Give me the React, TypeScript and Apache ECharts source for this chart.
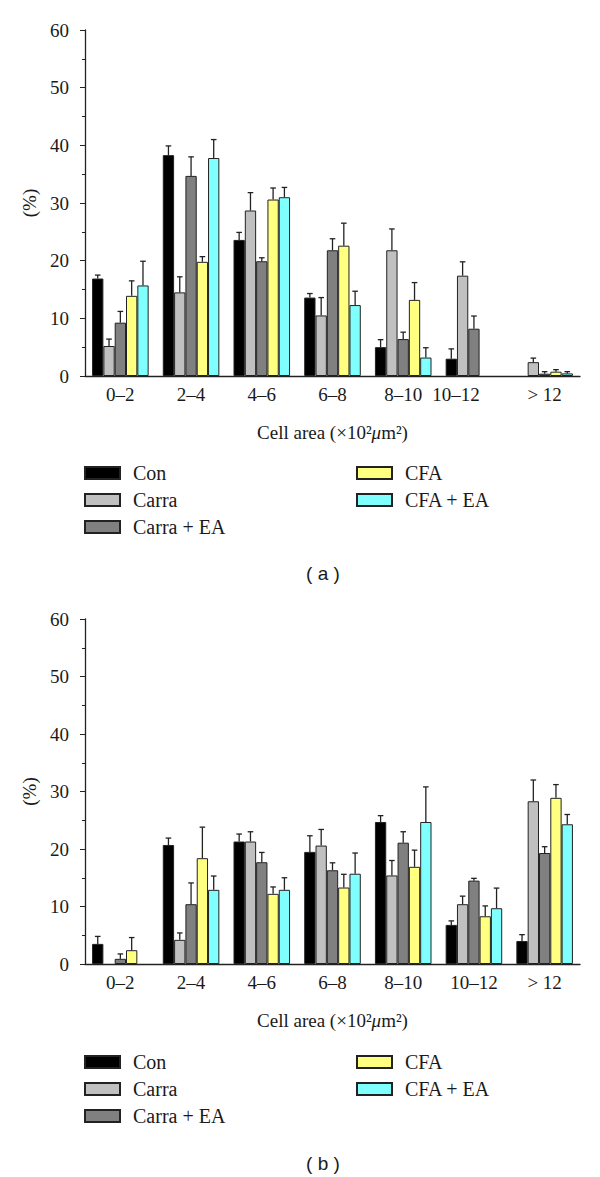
import React, { useEffect, useRef } from "react";
import * as echarts from "echarts";

const categories = ["0–2", "2–4", "4–6", "6–8", "8–10", "10–12", "> 12"];
const seriesNames = ["Con", "Carra", "Carra + EA", "CFA", "CFA + EA"];
const colors = ["#000000", "#c0c0c0", "#808080", "#ffff80", "#80ffff"];
const yTicks = [0, 10, 20, 30, 40, 50, 60];

// Panel (a): means and top of error bars
const aCon = [16.9, 38.3, 23.6, 13.6, 5.0, 3.0, null];
const aCarra = [5.2, 14.5, 28.7, 10.5, 21.8, 17.4, 2.4];
const aCarraEA = [9.25, 34.7, 19.9, 21.8, 6.4, 8.2, 0.4];
const aCFA = [13.9, 19.8, 30.6, 22.6, 13.2, null, 0.75];
const aCFAEA = [15.7, 37.8, 31.0, 12.3, 3.2, null, 0.45];
const aConErr = [17.5, 39.9, 24.9, 14.3, 6.3, 4.7, null];
const aCarraErr = [6.4, 17.2, 31.8, 13.6, 25.5, 19.8, 3.1];
const aCarraEAErr = [11.2, 38.0, 20.5, 23.8, 7.6, 10.4, 0.75];
const aCFAErr = [16.5, 20.7, 32.6, 26.5, 16.2, null, 1.1];
const aCFAEAErr = [19.9, 41.0, 32.7, 14.7, 4.9, null, 0.75];

// Panel (b)
const bCon = [3.5, 20.7, 21.3, 19.5, 24.7, 6.8, 4.0];
const bCarra = [null, 4.2, 21.3, 20.6, 15.4, 10.4, 28.3];
const bCarraEA = [0.9, 10.4, 17.7, 16.3, 21.1, 14.5, 19.3];
const bCFA = [2.4, 18.4, 12.2, 13.3, 16.9, 8.3, 28.9];
const bCFAEA = [null, 12.9, 12.9, 15.7, 24.7, 9.7, 24.3];
const bConErr = [4.8, 21.9, 22.6, 22.3, 25.8, 7.5, 5.1];
const bCarraErr = [null, 5.4, 23.0, 23.4, 18.0, 11.8, 32.0];
const bCarraEAErr = [1.75, 14.1, 19.4, 17.6, 23.0, 14.9, 20.4];
const bCFAErr = [4.6, 23.8, 13.4, 15.6, 19.8, 10.1, 31.2];
const bCFAEAErr = [null, 15.3, 15.0, 19.3, 30.8, 13.2, 26.0];

const SERIF = "Liberation Serif";
const SANS = "Liberation Sans";
const TXT = "#1a1a1a";
const FS = 19;

function buildPanel(gridIndex: number, means: (number | null)[][], errs: (number | null)[][]) {
  const series: any[] = [];
  means.forEach((vals, s) => {
    series.push({
      type: "bar",
      name: seriesNames[s],
      xAxisIndex: gridIndex,
      yAxisIndex: gridIndex,
      barGap: "0%",
      barCategoryGap: "20%",
      data: vals.map((v) => (v === null ? "-" : v)),
      itemStyle: { color: colors[s], borderColor: "#222", borderWidth: 1 },
    });
  });
  means.forEach((vals, s) => {
    const data: any[] = [];
    vals.forEach((v, i) => {
      const e = errs[s][i];
      if (v !== null && e !== null) data.push([i, v, e]);
    });
    series.push({
      type: "custom",
      name: "err-" + gridIndex + "-" + s,
      xAxisIndex: gridIndex,
      yAxisIndex: gridIndex,
      encode: { x: 0, y: 2 },
      data,
      z: 5,
      renderItem: (params: any, api: any) => {
        const idx = api.value(0);
        const p = api.coord([idx, api.value(1)]);
        const q = api.coord([idx, api.value(2)]);
        const catW = api.size([1, 0])[0];
        const barW = (catW * 0.8) / 5;
        const x = p[0] + (s - 2) * barW;
        const style = { stroke: "#222", lineWidth: 1.3 };
        return {
          type: "group",
          children: [
            { type: "line", shape: { x1: x, y1: p[1], x2: x, y2: q[1] }, style },
            { type: "line", shape: { x1: x - 2.8, y1: q[1], x2: x + 2.8, y2: q[1] }, style },
          ],
        };
      },
    });
  });
  return series;
}

function xAxisFor(gridIndex: number, shiftTen: boolean) {
  return {
    type: "category",
    gridIndex,
    data: categories.map((c) =>
      shiftTen && c === "10–12" ? { value: c, textStyle: { padding: [0, 36, 0, 0] } } : c
    ),
    axisLine: { lineStyle: { color: "#222", width: 1.3 } },
    axisTick: { show: false },
    axisLabel: { fontFamily: SERIF, fontSize: FS, color: TXT, margin: 9 },
    name: "{a|Cell area (×10²}{i|μ}{a|m²)}",
    nameLocation: "middle",
    nameGap: 47,
    nameTextStyle: {
      rich: {
        a: { fontFamily: SERIF, fontSize: 19, color: TXT },
        i: { fontFamily: SERIF, fontSize: 19, color: TXT, fontStyle: "italic" },
      },
    },
  };
}

function yAxisFor(gridIndex: number) {
  return {
    type: "value",
    gridIndex,
    min: yTicks[0],
    max: yTicks[yTicks.length - 1],
    interval: 10,
    splitLine: { show: false },
    axisLine: { show: true, lineStyle: { color: "#222", width: 1.3 } },
    axisTick: { show: true, length: 5, lineStyle: { color: "#222" } },
    minorTick: { show: true, splitNumber: 2, length: 3, lineStyle: { color: "#222" } },
    axisLabel: { fontFamily: SERIF, fontSize: FS, color: TXT, margin: 16 },
    name: "(%)",
    nameLocation: "middle",
    nameGap: 46,
    nameRotate: 90,
    nameTextStyle: { fontFamily: SERIF, fontSize: FS, color: TXT },
  };
}

function legendsFor(top: number) {
  const base = {
    orient: "vertical",
    top,
    padding: 0,
    itemWidth: 35,
    itemHeight: 12,
    itemGap: 7,
    icon: "rect",
    selectedMode: false,
    textStyle: { fontFamily: SERIF, fontSize: 20, color: TXT, lineHeight: 19, padding: [0, 0, 0, 8] },
  };
  return [
    { ...base, left: 84, data: seriesNames.slice(0, 3) },
    { ...base, left: 356, data: seriesNames.slice(3) },
  ];
}

export default function App() {
  const ref = useRef<HTMLDivElement>(null);
  useEffect(() => {
    if (!ref.current) return;
    const chart = echarts.init(ref.current, null, { renderer: "svg" });
    const option: any = {
      animation: false,
      backgroundColor: "#ffffff",
      grid: [
        { left: 85, right: 20, top: 30, height: 346 },
        { left: 85, right: 20, top: 619, height: 345 },
      ],
      xAxis: [xAxisFor(0, true), xAxisFor(1, false)],
      yAxis: [yAxisFor(0), yAxisFor(1)],
      legend: [...legendsFor(463), ...legendsFor(1052)],
      series: [
        ...buildPanel(
          0,
          [aCon, aCarra, aCarraEA, aCFA, aCFAEA],
          [aConErr, aCarraErr, aCarraEAErr, aCFAErr, aCFAEAErr]
        ),
        ...buildPanel(
          1,
          [bCon, bCarra, bCarraEA, bCFA, bCFAEA],
          [bConErr, bCarraErr, bCarraEAErr, bCFAErr, bCFAEAErr]
        ),
      ],
      graphic: [
        {
          type: "text",
          x: 323,
          y: 573,
          style: { text: "( a )", font: "19px " + SANS, fill: TXT, align: "center", verticalAlign: "middle" },
        },
        {
          type: "text",
          x: 323,
          y: 1163,
          style: { text: "( b )", font: "19px " + SANS, fill: TXT, align: "center", verticalAlign: "middle" },
        },
      ],
    };
    chart.setOption(option);
    return () => chart.dispose();
  }, []);
  return (
    <div
      ref={ref}
      style={{ position: "absolute", left: 0, top: 0, width: 600, height: 1177, background: "#fff" }}
    />
  );
}
